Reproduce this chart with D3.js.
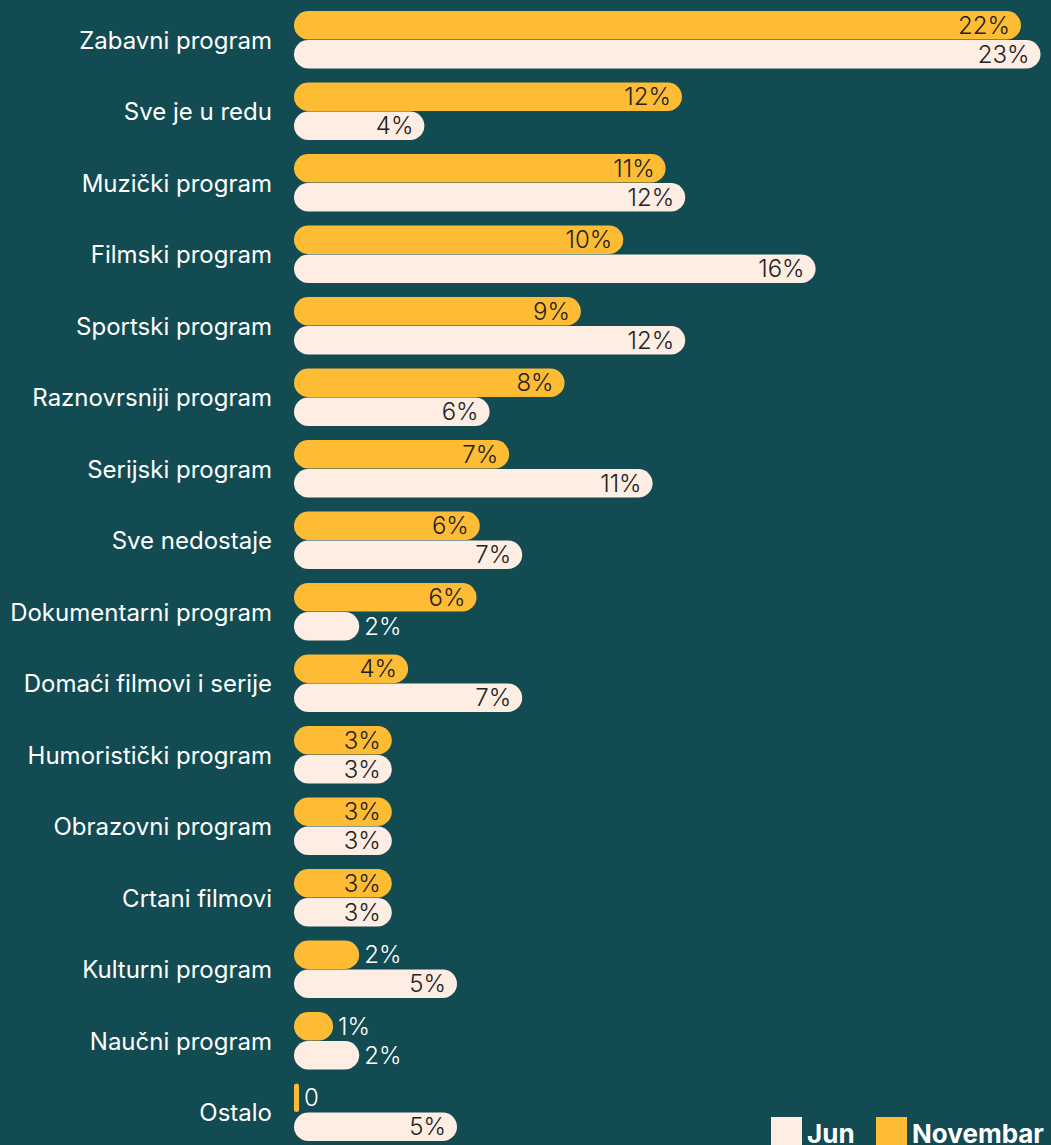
<!DOCTYPE html>
<html>
<head>
<meta charset="utf-8">
<script src="https://cdn.jsdelivr.net/npm/d3@7"></script>
<style>
  html, body { margin: 0; padding: 0; background: #124b52; overflow: hidden; }
  #vis { width: 1051px; height: 1145px; }
  text { font-family: Inter, Lato, sans-serif; }
</style>
</head>
<body>
<div id="vis"></div>
<script>
// data (percent)
var categories = ['Zabavni program', 'Sve je u redu', 'Muzički program', 'Filmski program',
    'Sportski program', 'Raznovrsniji program', 'Serijski program', 'Sve nedostaje',
    'Dokumentarni program', 'Domaći filmovi i serije', 'Humoristički program',
    'Obrazovni program', 'Crtani filmovi', 'Kulturni program', 'Naučni program', 'Ostalo'];
var novembar = [22.3, 11.9, 11.4, 10.1, 8.8, 8.3, 6.6, 5.7, 5.6, 3.5, 3.0, 3.0, 3.0, 2.0, 1.2, 0.1];
var jun = [22.9, 4.0, 12.0, 16.0, 12.0, 6.0, 11.0, 7.0, 2.0, 7.0, 3.0, 3.0, 3.0, 5.0, 2.0, 5.0];
var novembarLabels = ['22%', '12%', '11%', '10%', '9%', '8%', '7%', '6%', '6%', '4%', '3%', '3%', '3%', '2%', '1%', '0'];
var junLabels = ['23%', '4%', '12%', '16%', '12%', '6%', '11%', '7%', '2%', '7%', '3%', '3%', '3%', '5%', '2%', '5%'];
var seriesNames = ['Jun', 'Novembar'];

var width = 1051;
var height = 1145;
var barH = 28.5;

var colors = { Jun: '#fdede3', Novembar: '#fdbc33' };

var svg = d3.select('#vis')
            .append('svg')
            .attr('width', width)
            .attr('height', height);

var x = d3.scaleLinear()
          .domain([0, 23])
          .range([294, 294 + 23 * 32.6]);

var y = d3.scaleBand()
          .domain(categories)
          .range([11, 11 + 71.5 * categories.length])
          .paddingInner(0)
          .paddingOuter(0);

var rows = categories.map(function(c, i) {
    return {
        cat: c,
        bars: [
            { key: 'Novembar', v: novembar[i], label: novembarLabels[i], off: 0 },
            { key: 'Jun', v: jun[i], label: junLabels[i], off: barH + 0.5 }
        ]
    };
});

var row = svg.selectAll('g.row')
             .data(rows)
             .enter()
             .append('g')
             .attr('class', 'row')
             .attr('transform', function(d) { return 'translate(0,' + y(d.cat) + ')'; });

row.append('text')
   .attr('x', 272)
   .attr('y', barH + 1)
   .attr('dy', '0.35em')
   .attr('text-anchor', 'end')
   .attr('fill', '#ffffff')
   .style('font-size', '24px')
   .text(function(d) { return d.cat; });

var bar = row.selectAll('g.bar')
             .data(function(d) { return d.bars; })
             .enter()
             .append('g')
             .attr('class', 'bar')
             .attr('transform', function(d) { return 'translate(0,' + d.off + ')'; });

function barW(d) {
    return Math.max(5, x(d.v) - x(0));
}

function inside(d) {
    return barW(d) > 80;
}

bar.append('rect')
   .attr('x', x(0))
   .attr('y', 0)
   .attr('width', barW)
   .attr('height', barH)
   .attr('rx', function(d) { return Math.min(barH / 2, barW(d) / 2); })
   .attr('ry', function(d) { return barW(d) < 10 ? 2.5 : barH / 2; })
   .attr('fill', function(d) { return colors[d.key]; });

bar.append('text')
   .attr('x', function(d) {
       var w = barW(d);
       return inside(d) ? x(0) + w - 11 : x(0) + w + 5;
   })
   .attr('y', barH / 2)
   .attr('dy', '0.36em')
   .attr('text-anchor', function(d) { return inside(d) ? 'end' : 'start'; })
   .attr('fill', function(d) { return inside(d) ? '#222222' : '#ffffff'; })
   .style('font-size', '24px')
   .style('font-weight', 300)
   .text(function(d) { return d.label; });

// legend
var legend = svg.append('g')
                .attr('transform', 'translate(771,1117)');

var item = legend.selectAll('g')
                 .data(seriesNames)
                 .enter()
                 .append('g')
                 .attr('transform', function(d, i) { return 'translate(' + (i * 105) + ',0)'; });

item.append('rect')
    .attr('width', 31)
    .attr('height', 31)
    .attr('fill', function(d) { return colors[d]; });

item.append('text')
    .attr('x', 36)
    .attr('y', 26)
    .attr('fill', '#ffffff')
    .style('font-size', '26px')
    .style('font-weight', 'bold')
    .text(function(d) { return d; });
</script>
</body>
</html>
